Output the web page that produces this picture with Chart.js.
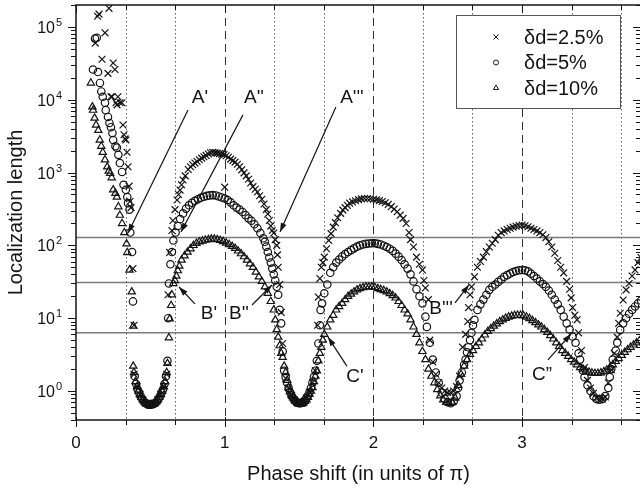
<!DOCTYPE html>
<html>
<head>
<meta charset="utf-8">
<title>Localization length vs phase shift</title>
<script src="https://cdn.jsdelivr.net/npm/chart.js@4.4.1/dist/chart.umd.min.js"></script>
<style>
  html, body { margin: 0; padding: 0; background: #fff; overflow: hidden; }
  #chart { display: block; }
</style>
</head>
<body>
<canvas id="chart" width="641" height="489"></canvas>
<script>
const FONT = "'Liberation Sans', Arial, Helvetica, sans-serif";
const INK = '#141414';

// axis ticks and reference lines
const phaseTicks = [0, 1, 2, 3];
const thirds = [1/3, 2/3, 4/3, 5/3, 7/3, 8/3, 10/3, 11/3];
const dashedAt = [1, 2, 3];
const levels = [128, 31, 6.3];
const decades = [0, 1, 2, 3, 4, 5];

// [phase shift, localization length]
const dd25 = [
  [0.13,60000],[0.145,140000],[0.155,150000],[0.175,36000],[0.195,83000],[0.215,23000],[0.222,180000],
  [0.235,11000],[0.242,11000],[0.25,32000],[0.262,26000],[0.269,9100],[0.276,8500],[0.282,11000],
  [0.296,9100],[0.309,9100],[0.316,4500],[0.323,3300],[0.33,2900],[0.336,2800],[0.343,1900],[0.35,1200],
  [0.357,650],[0.363,400],[0.37,330],[0.383,48],[0.39,8],
  [0.39,1.7],[0.41,1.15],[0.43,0.9],[0.45,0.76],[0.47,0.68],[0.49,0.65],[0.51,0.65],[0.53,0.68],
  [0.55,0.76],[0.57,0.9],[0.59,1.15],[0.61,1.7],
  [0.619,21],[0.63,80],[0.645,160],[0.652,220],[0.666,310],[0.68,420],[0.69,500],[0.70,575],[0.71,680],
  [0.72,790],[0.735,900],[0.755,1100],[0.77,1200],[0.785,1280],[0.80,1350],[0.815,1420],[0.83,1500],
  [0.845,1580],[0.86,1650],[0.875,1720],[0.89,1800],[0.905,1870],[0.92,1900],[0.935,1880],[0.95,1850],
  [0.965,1820],[0.98,1790],[0.995,1760],[1.00,630],[1.01,1700],[1.025,1620],[1.04,1530],[1.055,1460],
  [1.07,1390],[1.085,1300],[1.10,1200],[1.115,1090],[1.13,990],[1.145,900],[1.16,810],[1.175,720],
  [1.19,640],[1.205,590],[1.22,540],[1.235,480],[1.25,430],[1.265,370],[1.28,310],[1.29,270],[1.30,220],
  [1.31,185],[1.32,160],[1.33,148],[1.34,120],[1.35,100],[1.355,74],[1.36,50],[1.37,29],[1.38,12],[1.39,4.5],
  [1.41,1.5],[1.43,1.1],[1.45,0.87],[1.47,0.75],[1.49,0.69],[1.51,0.68],[1.53,0.71],[1.55,0.8],
  [1.57,0.96],[1.59,1.3],[1.61,1.9],
  [1.625,8],[1.63,19.5],[1.64,35],[1.65,50],[1.66,58],[1.67,69],[1.685,90],[1.70,117],[1.715,145],
  [1.73,178],[1.745,205],[1.76,240],[1.78,275],[1.795,305],[1.81,330],[1.825,355],[1.84,380],[1.86,395],
  [1.88,410],[1.90,425],[1.92,435],[1.94,440],[1.96,440],[1.98,437],[2.00,430],[2.02,422],[2.04,412],
  [2.06,400],[2.08,385],[2.10,365],[2.12,340],[2.14,315],[2.16,290],[2.18,260],[2.20,235],[2.22,200],
  [2.24,150],[2.25,120],[2.27,95],[2.29,69],[2.31,55],[2.33,46],[2.34,33],[2.35,26],[2.37,18],[2.38,5],[2.40,2.5],
  [2.42,1.7],[2.44,1.3],[2.46,1.1],[2.48,1.0],[2.50,0.95],[2.52,0.95],[2.54,1.0],[2.56,1.15],[2.58,1.6],
  [2.60,4.0],[2.62,6],[2.635,9],[2.64,14],[2.65,21],[2.66,27],[2.68,37],[2.70,50],[2.72,60],[2.74,69],
  [2.76,82],[2.78,95],[2.80,107],[2.82,120],[2.84,138],[2.86,150],[2.88,158],[2.90,165],[2.92,172],
  [2.94,178],[2.96,183],[2.98,187],[3.00,190],[3.02,186],[3.04,180],[3.06,172],[3.08,165],[3.10,158],
  [3.12,150],[3.14,140],[3.16,128],[3.18,112],[3.20,95],[3.22,78],[3.24,62],[3.26,50],[3.28,42],[3.30,32],
  [3.32,25],[3.33,19],[3.34,14],[3.355,11],[3.37,9.5],[3.38,6.3],[3.40,3.6],[3.42,2.1],[3.44,1.4],
  [3.46,1.1],[3.48,0.93],[3.50,0.8],[3.52,0.76],[3.54,0.78],[3.56,0.83],[3.58,1.3],[3.60,1.95],[3.62,3.3],
  [3.64,5.5],[3.65,8.5],[3.66,11.7],[3.68,17.8],[3.70,24.5],[3.72,30],[3.74,38],[3.76,46],[3.78,58],[3.80,68]
];

const dd5 = [
  [0.114,26000],[0.128,69000],[0.14,71000],[0.148,24000],[0.161,17000],[0.17,13000],[0.18,11000],
  [0.195,9100],[0.20,7200],[0.215,5800],[0.225,4800],[0.235,4200],[0.245,3500],[0.25,2800],[0.265,2300],
  [0.275,2200],[0.285,1750],[0.295,1350],[0.31,1020],[0.32,680],[0.335,580],[0.345,460],[0.35,380],
  [0.36,310],[0.365,150],[0.377,81],[0.383,17],
  [0.395,1.6],[0.405,1.25],[0.415,1.05],[0.425,0.95],[0.435,0.85],[0.445,0.78],[0.455,0.73],[0.465,0.69],
  [0.475,0.67],[0.485,0.65],[0.495,0.65],[0.505,0.65],[0.515,0.66],[0.525,0.67],[0.535,0.69],[0.545,0.73],
  [0.555,0.78],[0.565,0.85],[0.575,0.95],[0.585,1.05],[0.595,1.25],[0.605,1.6],
  [0.615,2.6],[0.62,10],[0.625,30],[0.635,55],[0.645,81],[0.655,117],[0.67,150],[0.685,185],[0.70,230],
  [0.72,275],[0.74,320],[0.76,355],[0.78,385],[0.80,410],[0.82,430],[0.84,450],[0.86,465],[0.88,478],
  [0.90,486],[0.92,490],[0.94,485],[0.96,470],[0.98,455],[1.00,440],[1.02,420],[1.04,390],[1.06,355],
  [1.08,330],[1.10,310],[1.12,288],[1.14,260],[1.16,235],[1.18,218],[1.20,195],[1.22,172],[1.24,148],
  [1.26,125],[1.27,112],[1.28,96],[1.29,81],[1.30,68],[1.31,58],[1.32,48],[1.33,40],[1.34,33],[1.35,27],
  [1.36,21],[1.37,13],[1.38,8.5],[1.39,3.5],
  [1.40,1.9],[1.41,1.55],[1.42,1.3],[1.43,1.1],[1.44,0.96],[1.45,0.87],[1.46,0.8],[1.47,0.75],[1.48,0.71],
  [1.49,0.69],[1.50,0.68],[1.51,0.68],[1.52,0.69],[1.53,0.71],[1.54,0.75],[1.55,0.8],[1.56,0.87],
  [1.57,0.96],[1.58,1.1],[1.59,1.3],[1.60,1.55],[1.61,1.9],[1.62,2.6],
  [1.63,4.5],[1.64,8],[1.645,13],[1.655,16],[1.67,22],[1.69,29],[1.71,42],[1.73,50],[1.75,58],[1.77,64],
  [1.79,70],[1.81,76],[1.83,81],[1.85,86],[1.87,91],[1.89,96],[1.91,100],[1.93,103],[1.95,105],[1.97,106],
  [1.99,107],[2.01,107],[2.03,105],[2.05,103],[2.07,99],[2.09,95],[2.11,90],[2.13,84],[2.15,77],[2.17,70],
  [2.19,63],[2.21,55],[2.23,48],[2.25,40],[2.27,32],[2.29,25],[2.31,20],[2.33,16],[2.35,10.5],[2.36,7.6],
  [2.38,4.6],[2.40,2.7],[2.42,1.8],[2.44,1.3],[2.46,0.95],[2.48,0.78],[2.50,0.7],[2.52,0.68],[2.54,0.72],
  [2.56,0.85],[2.57,1.1],[2.58,1.4],[2.595,1.8],[2.61,2.3],[2.62,2.7],[2.63,3.4],[2.64,4.0],[2.65,5.0],
  [2.66,6.3],[2.67,8.0],[2.68,9.5],[2.70,13],[2.72,15.5],[2.74,18],[2.76,21],[2.78,24.5],[2.80,27],
  [2.82,29],[2.84,31.5],[2.86,34],[2.88,37],[2.90,39],[2.92,41],[2.94,43],[2.96,44.5],[2.98,45.5],[3.00,46],
  [3.02,45.5],[3.04,44],[3.06,41],[3.08,38],[3.10,35],[3.12,32],[3.14,29.5],[3.16,27],[3.18,24],[3.20,21],
  [3.22,18],[3.24,15.5],[3.26,13],[3.28,10.5],[3.30,8.5],[3.32,7],[3.34,5.6],[3.36,4.6],[3.38,3.3],
  [3.39,2.7],[3.41,1.9],[3.42,1.55],[3.44,1.2],[3.46,1.0],[3.48,0.85],[3.50,0.78],[3.52,0.76],[3.54,0.78],
  [3.56,0.85],[3.58,1.1],[3.59,1.55],[3.60,2.0],[3.61,2.7],[3.63,3.6],[3.64,4.6],[3.66,6.9],[3.68,8.5],
  [3.70,10],[3.72,11.5],[3.74,13],[3.76,14.5],[3.78,16],[3.80,17.5]
];

const dd10 = [
  [0.10,17000],[0.11,8000],[0.115,7200],[0.125,5600],[0.135,4500],[0.15,3800],[0.16,2800],[0.17,2300],
  [0.18,1900],[0.195,1500],[0.21,1200],[0.22,1050],[0.23,980],[0.24,850],[0.25,580],[0.265,520],
  [0.275,460],[0.285,340],[0.295,260],[0.31,200],[0.325,150],[0.34,105],[0.345,80],[0.36,46],[0.375,23],[0.385,7.8],
  [0.385,2.2],[0.39,1.8],[0.40,1.35],[0.41,1.15],[0.42,1.0],[0.43,0.9],[0.44,0.82],[0.45,0.76],[0.46,0.71],
  [0.47,0.68],[0.48,0.66],[0.49,0.65],[0.50,0.65],[0.51,0.65],[0.52,0.66],[0.53,0.68],[0.54,0.71],
  [0.55,0.76],[0.56,0.82],[0.57,0.9],[0.58,1.0],[0.59,1.15],[0.60,1.35],[0.61,1.8],[0.615,2.4],
  [0.625,5.4],[0.63,9.8],[0.64,15],[0.645,21],[0.655,30],[0.665,33],[0.675,38],[0.685,45],[0.695,52],
  [0.71,63],[0.73,72],[0.75,81],[0.77,90],[0.79,100],[0.81,107],[0.83,112],[0.85,115],[0.87,118],[0.89,120],
  [0.91,122],[0.93,122],[0.95,120],[0.97,117],[0.99,113],[1.01,108],[1.03,103],[1.05,97],[1.07,91],[1.09,84],
  [1.11,77],[1.13,70],[1.15,63],[1.17,56],[1.19,50],[1.21,43],[1.23,37],[1.25,32],[1.27,27],[1.29,22],
  [1.31,17],[1.33,13],[1.34,9.5],[1.35,7],[1.36,5.5],[1.37,4.2],[1.38,3.3],[1.39,2.9],[1.40,2.2],[1.41,1.8],
  [1.42,1.4],[1.43,1.12],[1.44,0.98],[1.45,0.88],[1.46,0.81],[1.47,0.76],[1.48,0.72],[1.49,0.69],[1.50,0.67],
  [1.51,0.66],[1.52,0.67],[1.53,0.69],[1.54,0.72],[1.55,0.76],[1.56,0.82],[1.57,0.9],[1.58,1.0],[1.59,1.12],
  [1.60,1.35],[1.61,1.6],[1.62,1.9],[1.63,2.6],[1.64,3.3],[1.65,4.0],[1.66,5.0],[1.67,6.0],[1.69,7.6],
  [1.71,9.5],[1.73,11],[1.75,13],[1.77,14.5],[1.79,16],[1.81,18],[1.83,20],[1.85,21.5],[1.87,23],[1.89,24.5],
  [1.91,25.5],[1.93,26.3],[1.95,27],[1.97,27],[1.99,27],[2.01,26.5],[2.03,25.5],[2.05,24.8],[2.07,24],
  [2.09,23],[2.11,21.8],[2.13,20.5],[2.15,19],[2.17,17],[2.19,15],[2.21,13],[2.23,11.5],[2.25,9.5],
  [2.27,7.6],[2.29,6],[2.31,4.6],[2.33,3.5],[2.35,2.7],[2.37,2.0],[2.39,1.6],[2.41,1.3],[2.43,1.05],
  [2.45,0.86],[2.47,0.76],[2.49,0.7],[2.51,0.68],[2.53,0.7],[2.55,0.8],[2.57,1.2],[2.59,1.7],[2.61,2.2],
  [2.63,2.7],[2.65,3.2],[2.67,3.6],[2.69,4.1],[2.71,4.6],[2.73,5.2],[2.75,5.9],[2.77,6.6],[2.79,7.2],
  [2.81,7.8],[2.83,8.4],[2.85,9.0],[2.87,9.5],[2.89,10],[2.91,10.4],[2.93,10.7],[2.95,10.9],[2.97,11],
  [2.99,11],[3.01,10.8],[3.03,10.4],[3.05,9.9],[3.07,9.3],[3.09,8.7],[3.11,8.1],[3.13,7.6],[3.15,7.0],
  [3.17,6.4],[3.19,5.8],[3.21,5.2],[3.23,4.6],[3.25,4.1],[3.27,3.6],[3.29,3.3],[3.31,3.0],[3.33,2.7],
  [3.35,2.5],[3.37,2.3],[3.39,2.1],[3.41,2.0],[3.43,1.9],[3.45,1.82],[3.47,1.77],[3.49,1.75],[3.51,1.75],
  [3.53,1.78],[3.55,1.85],[3.57,1.95],[3.59,2.1],[3.61,2.3],[3.63,2.55],[3.65,2.8],[3.67,3.1],[3.69,3.4],
  [3.71,3.7],[3.73,4.0],[3.75,4.3],[3.77,4.6],[3.79,4.9]
];

// labelled arrows, in data units: label centre, arrow tail, arrow head
const notes = [
  { text: "A'",   at: [0.834, 10600], from: [0.753, 7250], to: [0.35, 148] },
  { text: "A''",  at: [1.197, 10600], from: [1.123, 6200], to: [0.706, 153] },
  { text: "A'''", at: [1.856, 10600], from: [1.748, 7960], to: [1.372, 153] },
  { text: "B'",   at: [0.894, 11.4],  from: [0.80, 15.7],  to: [0.693, 26.8] },
  { text: "B''",  at: [1.096, 11.4],  from: [1.184, 15.2], to: [1.318, 28.6] },
  { text: "B'''", at: [2.455, 13.4],  from: [2.549, 16.2], to: [2.643, 28.6] },
  { text: "C'",   at: [1.876, 1.56],  from: [1.822, 2.2],  to: [1.695, 5.5] },
  { text: "C\u201D", at: [3.134, 1.66], from: [3.174, 2.67], to: [3.329, 6.07] }
];

const toXY = arr => arr.map(([x, y]) => ({ x, y }));

function marker(ctx, style, r, cx, cy) {
  ctx.beginPath();
  if (style === 'circle') {
    ctx.arc(cx, cy, r, 0, Math.PI * 2);
  } else if (style === 'triangle') {
    for (let k = 0; k < 3; k++) {
      const ang = k * 2 * Math.PI / 3;
      const px = cx + Math.sin(ang) * r, py = cy - Math.cos(ang) * r;
      k ? ctx.lineTo(px, py) : ctx.moveTo(px, py);
    }
    ctx.closePath();
  } else {
    const d = r * 0.707;
    ctx.moveTo(cx - d, cy - d); ctx.lineTo(cx + d, cy + d);
    ctx.moveTo(cx + d, cy - d); ctx.lineTo(cx - d, cy + d);
  }
  ctx.stroke();
}

function seg(ctx, x1, y1, x2, y2) {
  ctx.beginPath(); ctx.moveTo(x1, y1); ctx.lineTo(x2, y2); ctx.stroke();
}

const decorations = {
  id: 'decorations',
  beforeDatasetsDraw(chart) {
    const { ctx, chartArea: a, scales: { x, y } } = chart;
    ctx.save();
    ctx.strokeStyle = '#7a7a7a';
    ctx.lineWidth = 1.5;
    levels.forEach(v => {
      const py = y.getPixelForValue(v);
      seg(ctx, a.left, py, a.right, py);
    });
    ctx.strokeStyle = '#666';
    ctx.lineWidth = 1;
    ctx.setLineDash([1.5, 2.5]);
    thirds.forEach(v => {
      const px = Math.round(x.getPixelForValue(v)) + 0.5;
      seg(ctx, px, a.top, px, a.bottom);
    });
    ctx.strokeStyle = '#333';
    ctx.setLineDash([8, 5]);
    dashedAt.forEach(v => {
      const px = Math.round(x.getPixelForValue(v)) + 0.5;
      seg(ctx, px, a.top, px, a.bottom);
    });
    ctx.restore();
  },
  afterDraw(chart) {
    const { ctx, chartArea: a, scales: { x, y } } = chart;
    ctx.save();
    ctx.strokeStyle = INK;
    ctx.fillStyle = INK;

    // frame
    ctx.lineWidth = 1.5;
    ctx.strokeRect(a.left, a.top, a.right - a.left, a.bottom - a.top);

    // x tick marks, bottom and top
    ctx.lineWidth = 1;
    phaseTicks.forEach(v => {
      const px = Math.round(x.getPixelForValue(v)) + 0.5;
      seg(ctx, px, a.bottom - 3, px, a.bottom + 7);
      seg(ctx, px, a.top, px, a.top + 8);
    });
    thirds.forEach(v => {
      const px = Math.round(x.getPixelForValue(v)) + 0.5;
      seg(ctx, px, a.bottom, px, a.bottom + 5);
      seg(ctx, px, a.top, px, a.top + 5);
    });

    // y tick marks, left outward and right inward
    for (let e = -1; e <= 5; e++) {
      for (let m = 1; m <= 9; m++) {
        const v = m * Math.pow(10, e);
        if (v < y.min * 0.999 || v > y.max * 1.001) continue;
        const py = Math.round(y.getPixelForValue(v)) + 0.5;
        const len = m === 1 ? 8 : 5;
        seg(ctx, a.left - len, py, a.left, py);
        seg(ctx, a.right - len, py, a.right, py);
      }
    }

    // y tick labels as 10 with a raised exponent
    decades.forEach(e => {
      const py = y.getPixelForValue(Math.pow(10, e));
      ctx.font = `16px ${FONT}`;
      ctx.textAlign = 'right';
      ctx.textBaseline = 'alphabetic';
      ctx.fillText('10', a.left - 21, py + 6);
      ctx.font = `11px ${FONT}`;
      ctx.textAlign = 'left';
      ctx.fillText(String(e), a.left - 20, py - 1);
    });

    // legend
    const bx = a.right - 185, by = a.top + 10, bw = 164, bh = 93;
    ctx.fillStyle = '#fff';
    ctx.fillRect(bx, by, bw, bh);
    ctx.strokeStyle = '#555';
    ctx.lineWidth = 1;
    ctx.strokeRect(bx + 0.5, by + 0.5, bw, bh);
    ctx.strokeStyle = INK;
    ctx.fillStyle = INK;
    ctx.font = `20px ${FONT}`;
    ctx.textAlign = 'left';
    ctx.textBaseline = 'middle';
    chart.data.datasets.forEach((ds, i) => {
      const ry = by + 22 + i * 25.5;
      const r = ds.pointStyle === 'crossRot' ? 3.5 : (ds.pointStyle === 'circle' ? 2.5 : 3);
      marker(ctx, ds.pointStyle, r, bx + 40, ry);
      ctx.fillText(ds.label, bx + 68, ry + 1);
    });

    // labelled arrows
    ctx.font = `19px ${FONT}`;
    ctx.textAlign = 'center';
    ctx.textBaseline = 'middle';
    ctx.lineWidth = 1.2;
    notes.forEach(n => {
      const lx = x.getPixelForValue(n.at[0]), ly = y.getPixelForValue(n.at[1]);
      const fx = x.getPixelForValue(n.from[0]), fy = y.getPixelForValue(n.from[1]);
      const tx = x.getPixelForValue(n.to[0]), ty = y.getPixelForValue(n.to[1]);
      ctx.fillText(n.text, lx, ly);
      seg(ctx, fx, fy, tx, ty);
      const ang = Math.atan2(ty - fy, tx - fx);
      ctx.beginPath();
      ctx.moveTo(tx, ty);
      ctx.lineTo(tx - 9 * Math.cos(ang) + 3 * Math.sin(ang), ty - 9 * Math.sin(ang) - 3 * Math.cos(ang));
      ctx.lineTo(tx - 9 * Math.cos(ang) - 3 * Math.sin(ang), ty - 9 * Math.sin(ang) + 3 * Math.cos(ang));
      ctx.closePath();
      ctx.fill();
    });
    ctx.restore();
  }
};

const pointSet = (label, data, style, radius) => ({
  label,
  data: toXY(data),
  pointStyle: style,
  pointRadius: radius,
  pointBorderWidth: 1.2,
  pointBorderColor: INK,
  pointBackgroundColor: 'rgba(0,0,0,0)',
  borderColor: INK,
  showLine: false
});

new Chart(document.getElementById('chart'), {
  type: 'scatter',
  data: {
    datasets: [
      pointSet('\u03B4d=2.5%', dd25, 'crossRot', 4.8),
      pointSet('\u03B4d=5%', dd5, 'circle', 3.7),
      pointSet('\u03B4d=10%', dd10, 'triangle', 4.2)
    ]
  },
  options: {
    responsive: false,
    animation: false,
    layout: { autoPadding: false, padding: { top: 5, left: 0, right: 0, bottom: 0 } },
    plugins: { legend: { display: false }, tooltip: { enabled: false } },
    scales: {
      x: {
        type: 'linear',
        min: 0,
        max: 3.8,
        grid: { display: false, drawTicks: false },
        border: { display: false },
        afterBuildTicks: s => { s.ticks = phaseTicks.map(v => ({ value: v })); },
        afterFit: s => { s.height = 69; s.paddingRight = 0; s.paddingLeft = 0; },
        ticks: { font: { family: FONT, size: 17 }, color: INK, padding: 13, maxRotation: 0, autoSkip: false },
        title: {
          display: true,
          text: 'Phase shift (in units of \u03C0)',
          font: { family: FONT, size: 20 },
          color: INK,
          padding: { top: 0, bottom: 3 }
        }
      },
      y: {
        type: 'logarithmic',
        min: 0.4,
        max: 200000,
        grid: { display: false, drawTicks: false },
        border: { display: false },
        ticks: { display: false },
        afterFit: s => { s.width = 76; s.paddingTop = 0; s.paddingBottom = 0; },
        title: {
          display: true,
          text: 'Localization length',
          font: { family: FONT, size: 20 },
          color: INK,
          padding: { top: 4, bottom: 0 }
        }
      }
    }
  },
  plugins: [decorations]
});
</script>
</body>
</html>
